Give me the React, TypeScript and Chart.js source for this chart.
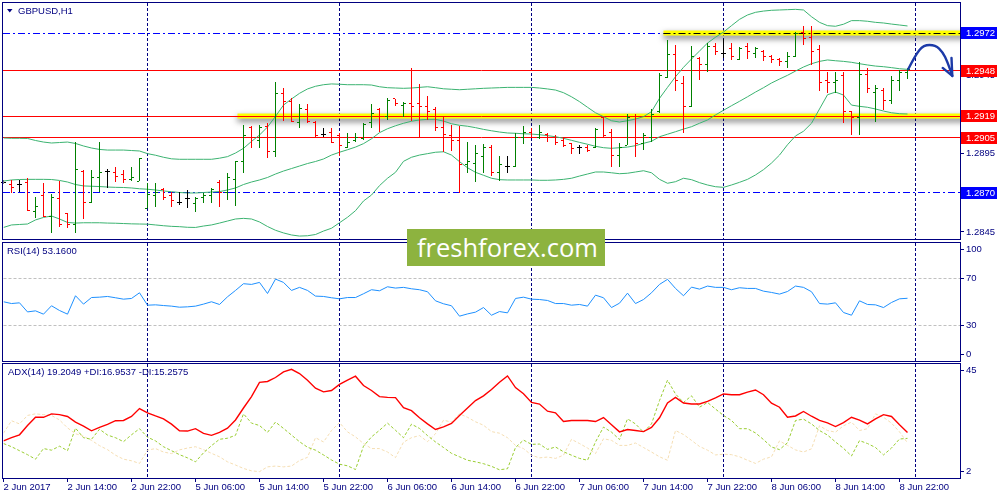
import React, { useEffect, useRef } from 'react';
import { Chart, registerables } from 'chart.js';

Chart.register(...registerables);

// ---------------- DATA ----------------
const barOpen = [1.28763,1.28756,1.28750,1.28763,1.28578,1.28680,1.28552,1.28661,1.28565,1.28495,
1.28839,1.28641,1.28795,1.28833,1.28827,1.28820,1.28782,1.28775,1.28603,1.28686,
1.28724,1.28680,1.28641,1.28661,1.28635,1.28673,1.28686,1.28769,1.28705,1.28782,
1.28897,1.29114,1.29037,1.29126,1.28961,1.29337,1.29280,1.29152,1.29229,1.29152,
1.29075,1.29082,1.29063,1.28992,1.29037,1.29044,1.29146,1.29229,1.29184,1.29299,
1.29260,1.29273,1.29267,1.29254,1.29229,1.29114,1.29063,1.29037,1.28878,1.28890,
1.28935,1.28992,1.28827,1.28871,1.28871,1.29056,1.29088,1.29056,1.29075,1.29056,
1.29037,1.29012,1.28992,1.28992,1.28992,1.29178,1.29082,1.28941,1.29005,1.29184,
1.29012,1.29056,1.29222,1.29439,1.29586,1.29395,1.29254,1.29560,1.29516,1.29631,
1.29592,1.29618,1.29554,1.29637,1.29592,1.29605,1.29573,1.29554,1.29535,1.29567,
1.29726,1.29694,1.29612,1.29420,1.29401,1.29446,1.29216,1.29178,1.29458,1.29343,
1.29356,1.29292,1.29420,1.29471];

const barHigh = [1.28782,1.28782,1.28782,1.28795,1.28673,1.28763,1.28692,1.28775,1.28571,1.29024,
1.28846,1.28846,1.29024,1.28852,1.28865,1.28846,1.28865,1.28922,1.28763,1.28763,
1.28731,1.28705,1.28705,1.28718,1.28673,1.28699,1.28731,1.28782,1.28827,1.28903,
1.29133,1.29126,1.29133,1.29146,1.29407,1.29369,1.29305,1.29267,1.29267,1.29158,
1.29114,1.29114,1.29082,1.29082,1.29082,1.29146,1.29267,1.29241,1.29305,1.29299,
1.29280,1.29497,1.29395,1.29318,1.29248,1.29184,1.29133,1.29126,1.29024,1.29005,
1.29012,1.29005,1.28935,1.28935,1.29082,1.29126,1.29114,1.29133,1.29082,1.29069,
1.29056,1.29018,1.29005,1.29005,1.29114,1.29184,1.29107,1.29018,1.29203,1.29203,
1.29082,1.29235,1.29465,1.29675,1.29643,1.29446,1.29637,1.29567,1.29656,1.29656,
1.29682,1.29656,1.29631,1.29656,1.29631,1.29612,1.29580,1.29560,1.29599,1.29726,
1.29765,1.29765,1.29643,1.29471,1.29471,1.29471,1.29222,1.29535,1.29497,1.29388,
1.29369,1.29446,1.29484,1.29497];

const barLow = [1.28756,1.28699,1.28705,1.28584,1.28539,1.28546,1.28444,1.28482,1.28475,1.28444,
1.28533,1.28635,1.28705,1.28731,1.28769,1.28763,1.28775,1.28775,1.28603,1.28610,
1.28654,1.28610,1.28622,1.28603,1.28578,1.28635,1.28635,1.28610,1.28654,1.28616,
1.28827,1.28986,1.28986,1.28922,1.28929,1.29158,1.29152,1.29114,1.29146,1.29056,
1.29056,1.29018,1.28935,1.28986,1.29024,1.29037,1.29114,1.29088,1.29165,1.29254,
1.29184,1.29158,1.29056,1.29165,1.29095,1.28961,1.28967,1.28699,1.28827,1.28769,
1.28827,1.28807,1.28775,1.28827,1.28865,1.29012,1.29056,1.29044,1.29024,1.29005,
1.28992,1.28948,1.28948,1.28961,1.28986,1.29050,1.28865,1.28865,1.29005,1.28929,
1.28973,1.29024,1.29209,1.29433,1.29350,1.29082,1.29248,1.29420,1.29471,1.29580,
1.29560,1.29548,1.29548,1.29554,1.29560,1.29541,1.29529,1.29509,1.29497,1.29567,
1.29643,1.29516,1.29350,1.29337,1.29337,1.29146,1.29069,1.29069,1.29337,1.29152,
1.29229,1.29267,1.29350,1.29426];

const barClose = [1.28763,1.28731,1.28750,1.28590,1.28610,1.28552,1.28673,1.28495,1.28495,1.28846,
1.28641,1.28795,1.28827,1.28833,1.28801,1.28782,1.28795,1.28922,1.28692,1.28699,
1.28667,1.28654,1.28641,1.28661,1.28661,1.28680,1.28724,1.28699,1.28795,1.28897,
1.29063,1.29056,1.29120,1.28961,1.29331,1.29280,1.29158,1.29235,1.29158,1.29063,
1.29075,1.29024,1.28999,1.29018,1.29056,1.29139,1.29209,1.29184,1.29292,1.29267,
1.29273,1.29254,1.29248,1.29222,1.29114,1.29075,1.29031,1.28878,1.28897,1.28948,
1.28992,1.28827,1.28878,1.28871,1.29056,1.29082,1.29056,1.29082,1.29050,1.29018,
1.29005,1.28980,1.28992,1.28973,1.29107,1.29069,1.28941,1.28992,1.29178,1.29012,
1.29063,1.29197,1.29446,1.29580,1.29420,1.29254,1.29567,1.29516,1.29637,1.29599,
1.29592,1.29567,1.29624,1.29599,1.29618,1.29573,1.29548,1.29535,1.29567,1.29720,
1.29688,1.29599,1.29407,1.29401,1.29420,1.29222,1.29178,1.29458,1.29369,1.29363,
1.29292,1.29420,1.29471,1.29490];

const bbUpper = [1.29050,1.29048,1.29048,1.29047,1.29034,1.29024,1.29018,1.29021,1.29024,1.29015,
1.28999,1.28986,1.28977,1.28973,1.28973,1.28973,1.28970,1.28967,1.28950,1.28940,
1.28927,1.28917,1.28914,1.28914,1.28914,1.28914,1.28914,1.28921,1.28931,1.28954,
1.28984,1.29028,1.29069,1.29120,1.29188,1.29260,1.29299,1.29335,1.29363,1.29380,
1.29390,1.29395,1.29393,1.29390,1.29390,1.29390,1.29388,1.29377,1.29371,1.29369,
1.29367,1.29369,1.29373,1.29377,1.29371,1.29364,1.29361,1.29358,1.29361,1.29364,
1.29367,1.29369,1.29371,1.29373,1.29373,1.29373,1.29373,1.29369,1.29363,1.29356,
1.29339,1.29313,1.29282,1.29246,1.29211,1.29186,1.29160,1.29152,1.29160,1.29171,
1.29186,1.29218,1.29303,1.29373,1.29441,1.29501,1.29554,1.29605,1.29656,1.29693,
1.29726,1.29767,1.29807,1.29835,1.29852,1.29860,1.29865,1.29867,1.29869,1.29871,
1.29867,1.29824,1.29788,1.29767,1.29763,1.29776,1.29799,1.29799,1.29795,1.29788,
1.29784,1.29777,1.29771,1.29765];

const bbMiddle = [1.28775,1.28782,1.28785,1.28786,1.28786,1.28786,1.28785,1.28779,1.28769,1.28753,
1.28744,1.28742,1.28740,1.28737,1.28735,1.28734,1.28731,1.28726,1.28723,1.28718,
1.28712,1.28707,1.28702,1.28699,1.28699,1.28702,1.28705,1.28708,1.28718,1.28731,
1.28753,1.28769,1.28782,1.28798,1.28820,1.28839,1.28855,1.28871,1.28887,1.28900,
1.28916,1.28941,1.28959,1.28975,1.28992,1.29014,1.29045,1.29084,1.29109,1.29128,
1.29144,1.29157,1.29165,1.29169,1.29169,1.29158,1.29141,1.29131,1.29125,1.29116,
1.29105,1.29096,1.29088,1.29082,1.29080,1.29077,1.29075,1.29071,1.29065,1.29058,
1.29048,1.29035,1.29022,1.29010,1.28997,1.28988,1.28984,1.28988,1.28992,1.29001,
1.29016,1.29029,1.29058,1.29074,1.29090,1.29107,1.29122,1.29144,1.29165,1.29197,
1.29227,1.29256,1.29284,1.29313,1.29343,1.29371,1.29401,1.29426,1.29450,1.29477,
1.29503,1.29524,1.29539,1.29548,1.29543,1.29539,1.29533,1.29524,1.29516,1.29509,
1.29505,1.29499,1.29492,1.29488];

const bbLower = [1.28479,1.28495,1.28498,1.28501,1.28527,1.28543,1.28552,1.28533,1.28511,1.28507,
1.28509,1.28509,1.28509,1.28507,1.28506,1.28504,1.28502,1.28501,1.28500,1.28495,
1.28490,1.28486,1.28484,1.28480,1.28479,1.28488,1.28495,1.28507,1.28520,1.28533,
1.28537,1.28533,1.28514,1.28485,1.28461,1.28444,1.28431,1.28424,1.28426,1.28434,
1.28456,1.28474,1.28509,1.28544,1.28586,1.28648,1.28686,1.28746,1.28793,1.28831,
1.28901,1.28927,1.28941,1.28950,1.28959,1.28962,1.28941,1.28899,1.28860,1.28831,
1.28812,1.28793,1.28784,1.28782,1.28782,1.28782,1.28782,1.28780,1.28780,1.28782,
1.28786,1.28793,1.28807,1.28820,1.28833,1.28833,1.28828,1.28822,1.28825,1.28833,
1.28841,1.28828,1.28786,1.28761,1.28771,1.28793,1.28784,1.28765,1.28750,1.28739,
1.28735,1.28750,1.28767,1.28786,1.28814,1.28848,1.28890,1.28941,1.29007,1.29063,
1.29093,1.29144,1.29235,1.29326,1.29343,1.29324,1.29260,1.29252,1.29246,1.29235,
1.29222,1.29211,1.29205,1.29203];

const rsiValues = [50.2,48.7,49.3,41.6,42.5,39.7,46.8,42.8,39.7,55.3,
48.2,53.8,54.1,54.7,53.6,52.4,53.0,57.8,47.3,47.6,
47.0,46.5,45.6,45.9,46.5,48.2,50.2,47.9,54.4,59.8,
65.5,64.9,66.6,57.2,69.4,66.6,59.8,62.4,59.8,55.0,
54.7,53.6,52.7,53.8,53.8,57.0,60.4,59.5,62.9,61.8,
62.4,61.2,60.4,58.7,51.0,48.5,46.8,38.0,39.9,41.4,
45.3,38.8,41.9,40.8,53.0,54.1,52.4,52.1,51.3,48.7,
48.7,47.3,47.9,46.5,55.8,53.6,45.3,49.0,57.5,48.7,
52.1,57.8,64.9,69.2,61.5,55.3,62.6,60.9,63.5,62.4,
62.4,60.4,62.1,61.5,61.5,59.2,58.1,56.7,58.9,63.5,
62.4,58.7,48.7,48.2,49.3,41.1,38.8,51.0,47.9,47.6,
45.3,49.6,52.7,53.16];

const adxMain = [16.0,17.2,18.3,21.8,24.9,24.9,26.2,25.9,25.2,23.1,
21.6,19.8,21.1,22.2,23.6,23.7,25.2,28.2,26.6,25.4,
24.3,22.3,19.8,19.7,20.6,18.8,18.1,19.2,20.8,23.9,
28.4,32.7,38.1,38.4,39.9,42.0,43.0,41.4,38.9,35.9,
34.5,35.0,37.3,38.9,40.4,36.9,35.0,32.7,32.4,32.3,
28.5,27.4,24.7,22.4,20.3,21.3,22.6,25.6,28.4,31.2,
33.0,35.4,38.1,40.5,36.1,33.8,30.5,29.9,27.2,26.6,
23.3,23.7,23.7,23.7,23.3,24.8,22.1,19.4,20.3,19.9,
19.5,21.1,24.7,30.3,32.4,30.3,29.9,29.9,30.9,32.2,
33.7,33.4,33.4,34.4,35.2,33.4,30.2,28.7,24.9,25.4,
27.1,25.3,23.7,22.8,21.4,22.9,24.9,23.8,22.4,24.3,
25.9,25.2,22.1,19.2];

const adxPlusDI = [15.0,13.8,12.3,10.8,9.1,13.1,12.5,14.0,12.3,20.8,
17.2,16.6,20.4,18.2,17.2,15.7,18.3,20.6,17.4,16.0,
13.8,12.3,10.8,9.6,8.1,11.5,14.2,16.6,17.0,18.1,
26.2,22.7,21.8,19.2,23.1,20.7,18.2,15.7,13.6,12.5,
10.7,8.8,7.2,6.6,5.2,14.0,17.5,20.0,22.7,20.0,
17.2,22.3,20.7,18.0,15.6,13.5,11.3,10.0,8.7,8.1,
7.4,6.4,5.1,5.5,13.5,16.3,14.7,14.8,12.8,13.7,
11.9,10.6,9.4,8.7,15.6,21.2,19.3,16.5,24.3,22.4,
19.3,22.4,31.2,38.9,33.7,30.5,33.0,28.7,30.5,28.0,
25.6,23.7,20.6,20.6,19.0,16.5,13.7,12.7,15.3,23.7,
24.2,22.4,19.9,18.2,15.6,13.2,10.3,16.1,15.0,13.5,
10.7,13.3,16.7,16.95];

const adxMinusDI = [18.9,23.6,22.4,25.6,26.2,25.9,25.6,23.9,20.9,18.7,
17.8,16.2,14.2,12.7,10.6,9.1,8.5,7.5,12.5,13.1,
11.8,11.2,12.6,13.3,13.8,12.7,11.3,10.0,8.1,6.9,
5.6,4.7,4.4,6.2,6.5,6.2,6.5,8.6,9.8,17.2,
15.6,19.9,22.9,19.4,17.5,15.0,13.1,13.1,11.8,9.7,
15.5,17.2,18.0,15.7,18.7,23.8,23.1,26.2,24.9,23.2,
21.9,19.5,18.9,17.2,14.3,13.1,10.6,9.6,9.9,9.4,
10.6,16.6,15.0,13.3,11.2,16.8,16.2,14.3,14.3,15.2,
13.5,11.8,10.0,8.7,19.9,18.4,16.2,13.9,12.5,10.7,
11.0,10.8,10.0,8.7,7.5,9.1,10.0,16.0,14.3,12.6,
11.8,13.0,21.7,19.9,19.3,21.7,23.1,19.9,20.6,26.2,
24.9,22.7,19.4,15.26];

const timeTickBars = [0, 8, 16, 24, 32, 40, 48, 56, 64, 72, 80, 88, 96, 104, 112];
const timeTickLabels = ['2 Jun 2017', '2 Jun 14:00', '2 Jun 22:00', '5 Jun 06:00', '5 Jun 14:00',
  '5 Jun 22:00', '6 Jun 06:00', '6 Jun 14:00', '6 Jun 22:00', '7 Jun 06:00', '7 Jun 14:00',
  '7 Jun 22:00', '8 Jun 06:00', '8 Jun 14:00', '8 Jun 22:00'];
const daySeparatorBars = [18, 42, 66, 90, 114];

const priceTicks = [1.2845, 1.2870, 1.2895, 1.2920, 1.2945, 1.2970];
const resistanceLevels = [1.2948, 1.2919, 1.2905];
const pivotLevels = [1.2972, 1.2870];
const highlightLevels = [1.2919, 1.2972];
const highlightStartBars = [29.25, 82.5];
const axisBoxLevels = [1.2972, 1.2948, 1.2919, 1.2905, 1.2870];

const rsiLevels = [30, 70];
const rsiRange = [0, 100];
const adxRange = [2, 45];

const arrowPathBars = [113.1, 114, 115, 116.5, 117.4, 118, 118.6];
const arrowPathPrices = [1.29490, 1.29580, 1.29643, 1.29643, 1.29599, 1.29535, 1.29446];
const arrowHeadBars = [117.4, 118.6, 118.5];
const arrowHeadPrices = [1.29497, 1.29446, 1.29561];

const PRICE_MIN = 1.284053;
const PRICE_MAX = 1.299115;
const X_MIN = 0;
const X_MAX = 119.5625;

// ---------------- STYLE ----------------
const NAVY = '#000080';
const FONT_FAMILY = '"Liberation Sans", Arial, sans-serif';
const FONT_SIZE = 9.5;
const FONT = `${FONT_SIZE}px ${FONT_FAMILY}`;
const DASH_DOT = [7, 3, 2, 3];
const AXIS_W = 40;

const barColor = (i: number) =>
  barClose[i] > barOpen[i] ? '#008000' : barClose[i] < barOpen[i] ? '#ff0000' : '#000000';

const fitY = (s: any) => { s.width = AXIS_W; s.paddingTop = 0; s.paddingBottom = 0; };
const fitXZero = (s: any) => { s.height = 0; s.paddingLeft = 0; s.paddingRight = 0; };

function gridAxis(): any {
  return {
    type: 'linear', min: X_MIN, max: X_MAX, position: 'bottom', offset: false,
    afterBuildTicks: (s: any) => { s.ticks = daySeparatorBars.map((v) => ({ value: v })); },
    afterFit: fitXZero,
    ticks: { display: false },
    grid: { display: true, offset: false, drawOnChartArea: true, drawTicks: false, color: NAVY, lineWidth: 1 },
    border: { display: false, dash: [3, 2] },
  };
}

function drawFrame(chart: any) {
  const { ctx, chartArea: a } = chart;
  const l = Math.floor(a.left), t = Math.floor(a.top), r = Math.round(a.right), b = Math.round(a.bottom);
  ctx.save();
  ctx.strokeStyle = NAVY;
  ctx.lineWidth = 1;
  ctx.setLineDash([]);
  ctx.strokeRect(l - 0.5, t - 0.5, r - l + 1, b - t + 1);
  ctx.restore();
}

function drawCaption(chart: any, text: string, x: number, y: number) {
  const { ctx } = chart;
  ctx.save();
  ctx.font = FONT;
  ctx.fillStyle = NAVY;
  ctx.textBaseline = 'middle';
  ctx.textAlign = 'left';
  ctx.fillText(text, x, y);
  ctx.restore();
}

function drawEdgeLabels(chart: any, range: number[]) {
  const { ctx, chartArea: a } = chart;
  const r = Math.round(a.right);
  const yt = Math.round(a.top) + 6;
  const yb = Math.round(a.bottom) - 7;
  ctx.save();
  ctx.font = FONT;
  ctx.fillStyle = NAVY;
  ctx.textBaseline = 'middle';
  ctx.textAlign = 'left';
  ctx.fillText(String(range[1]), r + 6, yt);
  ctx.fillText(String(range[0]), r + 6, yb);
  ctx.fillRect(r, yt, 4, 1);
  ctx.fillRect(r, yb, 4, 1);
  ctx.restore();
}

const mainOverlay = {
  id: 'mainOverlay',
  beforeDatasetsDraw(chart: any) {
    const { ctx, chartArea: a } = chart;
    const xs = chart.scales.x, ys = chart.scales.y;
    const L = Math.floor(a.left), R = Math.round(a.right);
    const py = (v: number) => Math.floor(ys.getPixelForValue(v)) + 0.5;
    const hline = (v: number, x0: number, x1: number, color: string, dash: number[]) => {
      ctx.save();
      ctx.strokeStyle = color;
      ctx.lineWidth = 1;
      ctx.setLineDash(dash);
      ctx.beginPath();
      ctx.moveTo(x0, py(v));
      ctx.lineTo(x1, py(v));
      ctx.stroke();
      ctx.restore();
    };
    ctx.save();
    ctx.beginPath();
    ctx.rect(L, a.top, R - L, a.bottom - a.top);
    ctx.clip();
    pivotLevels.forEach((v) => hline(v, L, R, '#0000ff', DASH_DOT));
    highlightLevels.forEach((v, k) => {
      const x0 = xs.getPixelForValue(highlightStartBars[k]);
      const y = ys.getPixelForValue(v);
      ctx.save();
      ctx.shadowColor = 'rgba(0,0,0,0.55)';
      ctx.shadowBlur = 6;
      ctx.shadowOffsetY = 3;
      ctx.fillStyle = '#ffff00';
      ctx.fillRect(x0, y - 2.5, R - x0 + 20, 5);
      ctx.restore();
      if (pivotLevels.includes(v)) hline(v, x0, R, '#000000', DASH_DOT);
    });
    resistanceLevels.forEach((v) => hline(v, L, R, '#ff0000', []));
    ctx.restore();
  },
  afterDatasetsDraw(chart: any) {
    const { ctx, chartArea: a } = chart;
    const ys = chart.scales.y;
    const meta = chart.getDatasetMeta(0);
    ctx.save();
    ctx.beginPath();
    ctx.rect(a.left - 4, a.top, a.right - a.left + 8, a.bottom - a.top);
    ctx.clip();
    meta.data.forEach((el: any, i: number) => {
      const col = Math.round(el.x - 0.5);
      ctx.fillStyle = barColor(i);
      const yo = Math.floor(ys.getPixelForValue(barOpen[i]));
      const yc = Math.floor(ys.getPixelForValue(barClose[i]));
      ctx.fillRect(col - 2, yo, 2, 1);
      ctx.fillRect(col + 1, yc, 2, 1);
    });
    ctx.restore();
  },
  afterDraw(chart: any) {
    const { ctx, chartArea: a } = chart;
    const xs = chart.scales.x, ys = chart.scales.y;
    drawFrame(chart);
    ctx.save();
    ctx.fillStyle = NAVY;
    ctx.beginPath();
    ctx.moveTo(7, 9);
    ctx.lineTo(12.5, 9);
    ctx.lineTo(9.75, 12.5);
    ctx.closePath();
    ctx.fill();
    ctx.restore();
    drawCaption(chart, 'GBPUSD,H1', 18, 11);
    const r = Math.round(a.right);
    ctx.save();
    ctx.font = FONT;
    ctx.textBaseline = 'middle';
    ctx.textAlign = 'left';
    axisBoxLevels.forEach((v) => {
      const y = Math.round(ys.getPixelForValue(v));
      ctx.fillStyle = pivotLevels.includes(v) ? '#0000ff' : '#ff0000';
      ctx.fillRect(r + 1, y - 6, 36, 12);
      ctx.fillStyle = '#ffffff';
      ctx.fillText(v.toFixed(4), r + 6, y);
    });
    ctx.restore();
    const pts = arrowPathBars.map((b, k) => [xs.getPixelForValue(b), ys.getPixelForValue(arrowPathPrices[k])]);
    const head = arrowHeadBars.map((b, k) => [xs.getPixelForValue(b), ys.getPixelForValue(arrowHeadPrices[k])]);
    ctx.save();
    ctx.strokeStyle = '#1c3aa8';
    ctx.lineWidth = 2.4;
    ctx.lineCap = 'round';
    ctx.lineJoin = 'round';
    ctx.beginPath();
    ctx.moveTo(pts[0][0], pts[0][1]);
    for (let k = 1; k < pts.length - 1; k++) {
      const mx = (pts[k][0] + pts[k + 1][0]) / 2;
      const my = (pts[k][1] + pts[k + 1][1]) / 2;
      ctx.quadraticCurveTo(pts[k][0], pts[k][1], mx, my);
    }
    ctx.lineTo(pts[pts.length - 1][0], pts[pts.length - 1][1]);
    ctx.stroke();
    ctx.beginPath();
    ctx.moveTo(head[0][0], head[0][1]);
    ctx.lineTo(head[1][0], head[1][1]);
    ctx.lineTo(head[2][0], head[2][1]);
    ctx.stroke();
    ctx.restore();
  },
};

const rsiOverlay = {
  id: 'rsiOverlay',
  afterDraw(chart: any) {
    drawFrame(chart);
    drawCaption(chart, `RSI(14) ${rsiValues[rsiValues.length - 1].toFixed(4)}`, 7, 11);
    drawEdgeLabels(chart, rsiRange);
  },
};

const adxOverlay = {
  id: 'adxOverlay',
  afterDraw(chart: any) {
    drawFrame(chart);
    drawCaption(chart, 'ADX(14) 19.2049 +DI:16.9537 -DI:15.2575', 8, 10);
    drawEdgeLabels(chart, adxRange);
  },
};

const baseOptions = (padding: any, scales: any): any => ({
  animation: false,
  responsive: false,
  maintainAspectRatio: false,
  devicePixelRatio: 1,
  events: [],
  layout: { padding },
  plugins: { legend: { display: false }, tooltip: { enabled: false }, colors: { enabled: false } },
  scales,
});

const line = (values: number[], color: string, width: number, dash: number[] = [], order = 0): any => ({
  type: 'line',
  data: values.map((v, i) => ({ x: i, y: v })),
  borderColor: color,
  borderWidth: width,
  borderDash: dash,
  pointRadius: 0,
  tension: 0,
  fill: false,
  order,
});

export default function App() {
  const mainRef = useRef<HTMLCanvasElement>(null);
  const rsiRef = useRef<HTMLCanvasElement>(null);
  const adxRef = useRef<HTMLCanvasElement>(null);

  useEffect(() => {
    Chart.defaults.font.family = FONT_FAMILY;
    Chart.defaults.font.size = FONT_SIZE;

    const mainChart = new Chart(mainRef.current as any, {
      type: 'line',
      data: {
        datasets: [
          {
            type: 'bar',
            data: barHigh.map((h, i) => ({ x: i, y: [barLow[i], h] })),
            backgroundColor: (c: any) => barColor(c.dataIndex),
            borderColor: (c: any) => barColor(c.dataIndex),
            barThickness: 1,
            borderWidth: 0,
            borderSkipped: false,
            inflateAmount: 0,
            order: 0,
          } as any,
          line(bbUpper, '#3cb371', 1, [], 1),
          line(bbMiddle, '#3cb371', 1, [], 1),
          line(bbLower, '#3cb371', 1, [], 1),
        ],
      },
      options: baseOptions({ left: 3.5, top: 3, bottom: 3, right: 0 }, {
        x: gridAxis(),
        y: {
          type: 'linear', position: 'right', min: PRICE_MIN, max: PRICE_MAX,
          afterBuildTicks: (s: any) => { s.ticks = priceTicks.map((v) => ({ value: v })); },
          afterFit: fitY,
          ticks: { callback: (v: any) => Number(v).toFixed(4), color: NAVY, padding: 2, autoSkip: false, font: { size: FONT_SIZE, family: FONT_FAMILY } },
          grid: { display: true, drawOnChartArea: false, drawTicks: true, tickLength: 4, tickColor: NAVY, color: NAVY },
          border: { display: false },
        },
      }),
      plugins: [mainOverlay],
    } as any);

    const rsiChart = new Chart(rsiRef.current as any, {
      type: 'line',
      data: { datasets: [line(rsiValues, '#1e90ff', 1)] },
      options: baseOptions({ left: 3.5, top: 3, bottom: 1, right: 0 }, {
        x: gridAxis(),
        y: {
          type: 'linear', position: 'right', min: rsiRange[0], max: rsiRange[1],
          afterBuildTicks: (s: any) => { s.ticks = rsiLevels.map((v) => ({ value: v })); },
          afterFit: fitY,
          ticks: { color: NAVY, padding: 2, autoSkip: false, font: { size: FONT_SIZE, family: FONT_FAMILY } },
          grid: { display: true, drawOnChartArea: true, drawTicks: true, tickLength: 4, tickColor: NAVY, color: '#c0c0c0' },
          border: { display: false, dash: [3, 2] },
        },
      }),
      plugins: [rsiOverlay],
    } as any);

    const adxChart = new Chart(adxRef.current as any, {
      type: 'line',
      data: {
        datasets: [
          line(adxMain, '#ff0000', 1.4, [], 0),
          line(adxPlusDI, '#9acd32', 1, [3, 2], 1),
          line(adxMinusDI, '#f5deb3', 1, [3, 2], 2),
        ],
      },
      options: baseOptions({ left: 3.5, top: 2, bottom: 0, right: 0 }, {
        xg: gridAxis(),
        x: {
          type: 'linear', min: X_MIN, max: X_MAX, position: 'bottom', offset: false,
          afterBuildTicks: (s: any) => { s.ticks = timeTickBars.map((v) => ({ value: v })); },
          afterFit: (s: any) => { s.height = 22; s.paddingLeft = 0; s.paddingRight = 0; },
          ticks: {
            callback: (v: any) => { const k = timeTickBars.indexOf(Number(v)); return k >= 0 ? timeTickLabels[k] : ''; },
            align: 'start', padding: 0, maxRotation: 0, minRotation: 0, autoSkip: false, color: NAVY,
            font: { size: FONT_SIZE, family: FONT_FAMILY },
          },
          grid: { display: true, offset: false, drawOnChartArea: false, drawTicks: true, tickLength: 4, tickColor: NAVY, color: NAVY },
          border: { display: false },
        },
        y: {
          type: 'linear', position: 'right', min: adxRange[0], max: adxRange[1],
          afterFit: fitY,
          ticks: { display: false },
          grid: { display: false },
          border: { display: false },
        },
      }),
      plugins: [adxOverlay],
    } as any);

    return () => {
      mainChart.destroy();
      rsiChart.destroy();
      adxChart.destroy();
    };
  }, []);

  const abs = (top: number, height: number): any => ({ position: 'absolute', left: 0, top, width: 1000, height, display: 'block' });

  return (
    <div style={{ position: 'fixed', left: 0, top: 0, width: 1000, height: 500, background: '#ffffff', overflow: 'hidden' }}>
      <canvas ref={mainRef} width={1000} height={242} style={abs(0, 242)} />
      <canvas ref={rsiRef} width={1000} height={122} style={abs(240, 122)} />
      <canvas ref={adxRef} width={1000} height={138} style={abs(362, 138)} />
      <div
        style={{
          position: 'absolute', left: 407, top: 229, width: 198, height: 37,
          background: '#8db33f', color: '#ffffff', boxSizing: 'border-box', paddingLeft: 10,
          font: '25.5px "Open Sans", sans-serif', lineHeight: '37px', whiteSpace: 'nowrap', overflow: 'hidden',
        }}
      >
        freshforex.com
      </div>
    </div>
  );
}
